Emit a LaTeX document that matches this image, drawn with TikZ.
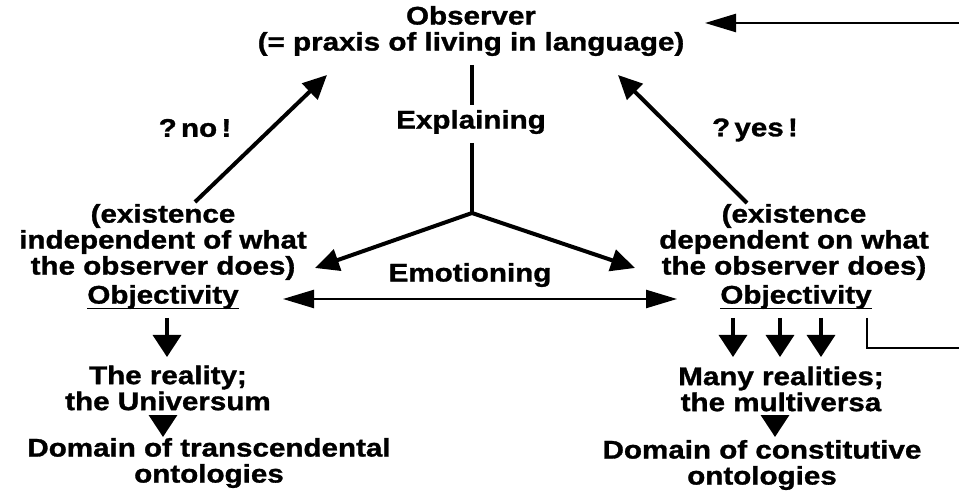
\documentclass[tikz,border=0pt]{standalone}
\usepackage{fontspec}
\setmainfont{Liberation Sans}[FakeStretch=1.16,FakeBold=1.2]
\usetikzlibrary{arrows.meta}

\begin{document}
\begin{tikzpicture}[x=1pt,y=-1pt,
  lbl/.style={font=\bfseries\fontsize{25.5}{26}\selectfont, align=center, inner sep=0pt},
  link/.style={line width=3.4pt},
  bigarrow/.style={line width=4pt, -{Triangle[length=24pt,width=22pt]}},
  downarrow/.style={line width=3.4pt, -{Triangle[length=22pt,width=28pt]}},
  longarrow/.style={line width=2.4pt, -{Triangle[length=31pt,width=18pt]}},
  twoway/.style={line width=2.4pt, {Triangle[length=31pt,width=18pt]}-{Triangle[length=31pt,width=18pt]}}]
\useasboundingbox (0,0) rectangle (959,494);

% text
\node[lbl] (obs)   at (471,31)  {Observer\\(= praxis of living in language)};
\node[lbl] (expl)  at (471,122) {Explaining};
\node[lbl] (no)    at (195,128) {?\,no\,!};
\node[lbl] (yes)   at (755,130) {?\,yes\,!};
\node[lbl] (exL)   at (163,242) {(existence\\independent of what\\the observer does)};
\node[lbl] (exR)   at (794,242) {(existence\\dependent on what\\the observer does)};
\node[lbl] (objL)  at (163,297) {Objectivity};
\node[lbl] (objR)  at (796,297) {Objectivity};
\node[lbl] (emo)   at (470,275) {Emotioning};
\node[lbl] (realL) at (168,388) {The reality;\\the Universum};
\node[lbl] (realR) at (781,389) {Many realities;\\the multiversa};
\node[lbl] (domL)  at (209,463) {Domain of transcendental\\ontologies};
\node[lbl] (domR)  at (762,465) {Domain of constitutive\\ontologies};

% underlines
\draw[line width=1.8pt] ([yshift=-5pt]objL.base west) -- ([yshift=-5pt]objL.base east);
\draw[line width=1.8pt] ([yshift=-5pt]objR.base west) -- ([yshift=-5pt]objR.base east);

% branching point and arrow ends
\coordinate (J)     at (472,213);
\coordinate (tipL)  at (315,268);
\coordinate (tipR)  at (635,268);
\coordinate (upL0)  at (195,202);
\coordinate (upL1)  at (327,75);
\coordinate (upR0)  at (747,203);
\coordinate (upR1)  at (618,75);
\coordinate (emoL)  at (283,299);
\coordinate (emoR)  at (677,299);
\coordinate (back)  at (705,23);
\coordinate (edgeT) at (959,23);
\coordinate (brk0)  at (867,318);
\coordinate (brk1)  at (867,348);
\coordinate (edgeB) at (959,348);

% explaining stem
\draw[link] (472,65) -- (472,105);
\draw[link] (472,143) -- (J);
\draw[bigarrow] (J) -- (tipL);
\draw[bigarrow] (J) -- (tipR);

% questions back to the observer
\draw[bigarrow] (upL0) -- (upL1);
\draw[bigarrow] (upR0) -- (upR1);

% emotioning
\draw[twoway] (emoL) -- (emoR);

% consequences
\draw[downarrow] (167,318) -- (167,357);
\draw[downarrow] (163,416) -- (163,437);
\draw[downarrow] (733,318) -- (733,357);
\draw[downarrow] (780,318) -- (780,357);
\draw[downarrow] (821,318) -- (821,357);
\draw[downarrow] (775,416) -- (775,437);

% feedback loop
\draw[line width=2.4pt] (brk0) -- (brk1) -- (edgeB);
\draw[longarrow] (edgeT) -- (back);
\end{tikzpicture}
\end{document}
